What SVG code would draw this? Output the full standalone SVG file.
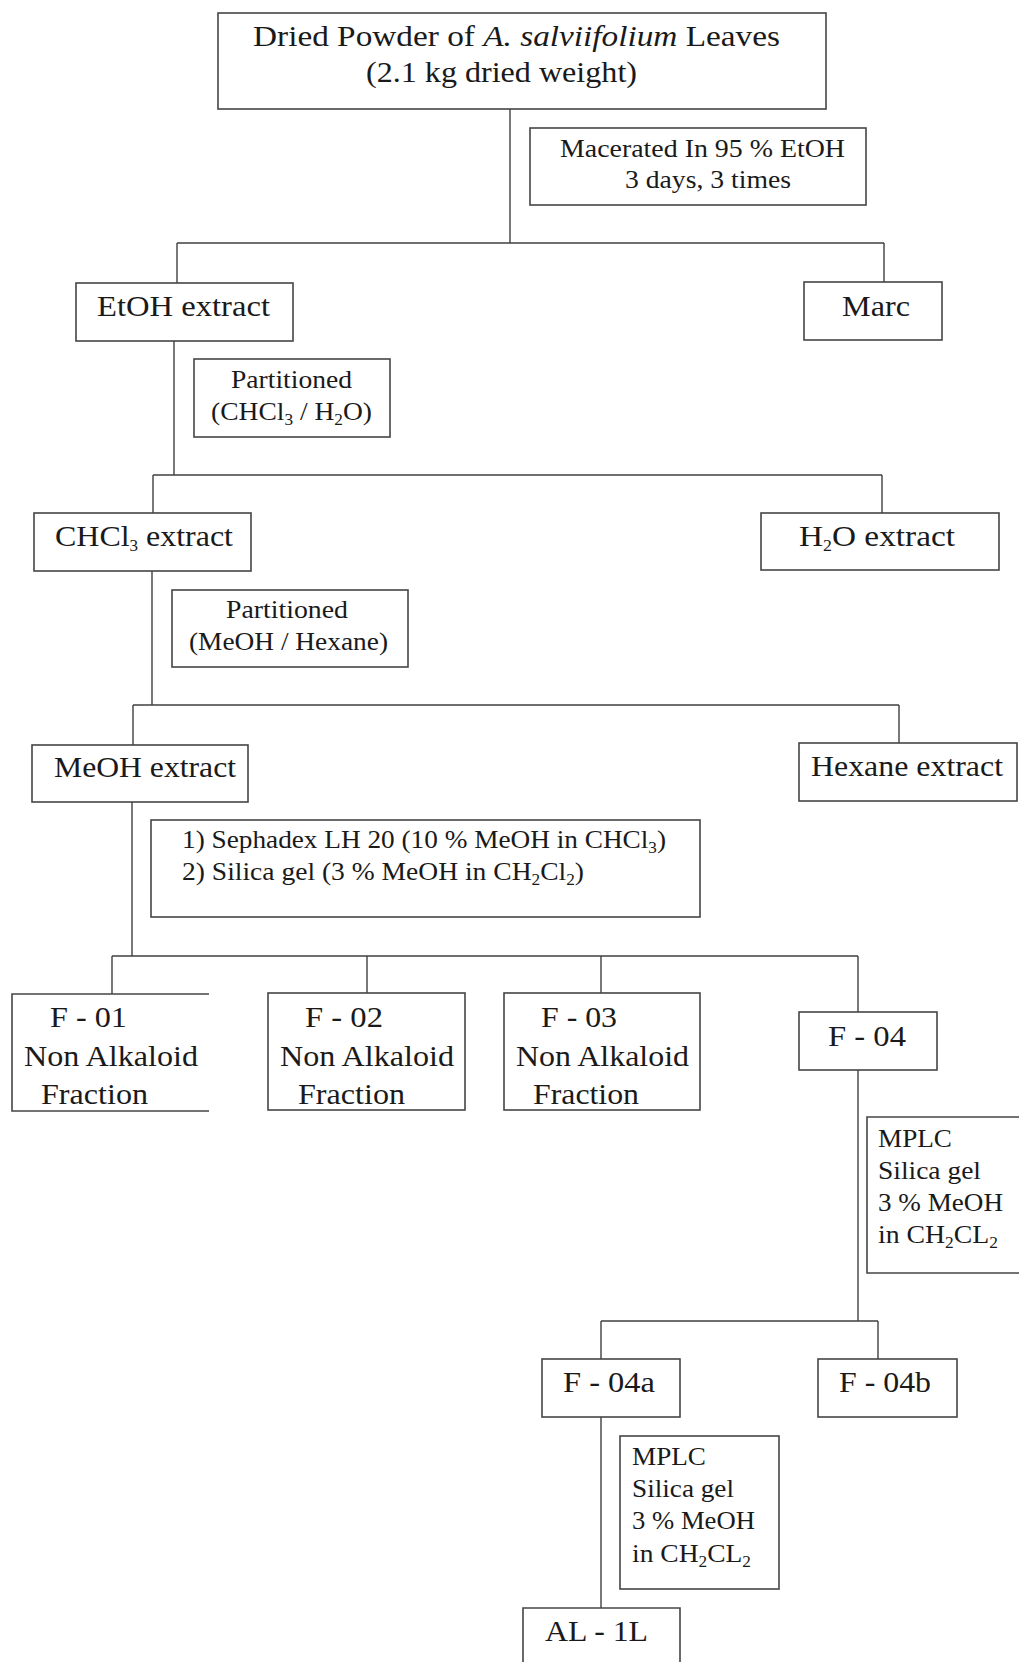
<svg xmlns="http://www.w3.org/2000/svg" width="1019" height="1662" viewBox="0 0 1019 1662" font-family="'Liberation Serif', 'Times New Roman', Times, serif">
<style>
.bx{fill:none;stroke:#454545;stroke-width:1.6}
.ln{fill:none;stroke:#404040;stroke-width:1.4}
text{font-family:'Liberation Serif','Times New Roman',Times,serif;fill:#1a1a1a}
.big{font-size:30px}
.sm{font-size:25.5px}
.sub{font-size:16px}
</style>
<rect width="1019" height="1662" fill="#ffffff"/>
<g id="connectors">
<path class="ln" d="M510,109 V243 M177,243 H884 M177,243 V283 M884,243 V282"/>
<path class="ln" d="M174,341 V475 M153,475 H882 M153,475 V513 M882,475 V513"/>
<path class="ln" d="M152,571 V705 M133,705 H899 M133,705 V745 M899,705 V743"/>
<path class="ln" d="M132,802 V956 M112,956 H858 M112,956 V994 M367,956 V993 M601,956 V993 M858,956 V1012"/>
<path class="ln" d="M858,1070 V1321 M601,1321 H878 M601,1321 V1359 M878,1321 V1359"/>
<path class="ln" d="M601,1417 V1608"/>
</g>
<g id="n-start">
<rect class="bx" x="218" y="13" width="608" height="96"/>
<text class="big" x="253" y="46" textLength="527" lengthAdjust="spacingAndGlyphs">Dried Powder of <tspan font-style="italic">A. salviifolium</tspan> Leaves</text>
<text class="big" x="366" y="82" textLength="271" lengthAdjust="spacingAndGlyphs">(2.1 kg dried weight)</text>
</g>
<g id="s-macerate">
<rect class="bx" x="530" y="128" width="336" height="77"/>
<text class="sm" x="560" y="157" textLength="285" lengthAdjust="spacingAndGlyphs">Macerated In 95 % EtOH</text>
<text class="sm" x="625" y="188" textLength="166" lengthAdjust="spacingAndGlyphs">3 days, 3 times</text>
</g>
<g id="n-etoh">
<rect class="bx" x="76" y="283" width="217" height="58"/>
<text class="big" x="97" y="316" textLength="173" lengthAdjust="spacingAndGlyphs">EtOH extract</text>
</g>
<g id="n-marc">
<rect class="bx" x="804" y="282" width="138" height="58"/>
<text class="big" x="842" y="316" textLength="68" lengthAdjust="spacingAndGlyphs">Marc</text>
</g>
<g id="s-part1">
<rect class="bx" x="194" y="359" width="196" height="78"/>
<text class="sm" x="231" y="388" textLength="121" lengthAdjust="spacingAndGlyphs">Partitioned</text>
<text class="sm" x="211" y="420" textLength="161" lengthAdjust="spacingAndGlyphs">(CHCl<tspan class="sub" dy="5">3</tspan><tspan dy="-5"> / H</tspan><tspan class="sub" dy="5">2</tspan><tspan dy="-5">O)</tspan></text>
</g>
<g id="n-chcl3">
<rect class="bx" x="34" y="513" width="217" height="58"/>
<text class="big" x="55" y="546" textLength="178" lengthAdjust="spacingAndGlyphs">CHCl<tspan class="sub" dy="5">3</tspan><tspan dy="-5"> extract</tspan></text>
</g>
<g id="n-h2o">
<rect class="bx" x="761" y="513" width="238" height="57"/>
<text class="big" x="799" y="546" textLength="156" lengthAdjust="spacingAndGlyphs">H<tspan class="sub" dy="5">2</tspan><tspan dy="-5">O extract</tspan></text>
</g>
<g id="s-part2">
<rect class="bx" x="172" y="590" width="236" height="77"/>
<text class="sm" x="226" y="618" textLength="122" lengthAdjust="spacingAndGlyphs">Partitioned</text>
<text class="sm" x="189" y="650" textLength="199" lengthAdjust="spacingAndGlyphs">(MeOH / Hexane)</text>
</g>
<g id="n-meoh">
<rect class="bx" x="32" y="745" width="216" height="57"/>
<text class="big" x="54" y="777" textLength="182" lengthAdjust="spacingAndGlyphs">MeOH extract</text>
</g>
<g id="n-hexane">
<rect class="bx" x="799" y="743" width="218" height="58"/>
<text class="big" x="811" y="776" textLength="192" lengthAdjust="spacingAndGlyphs">Hexane extract</text>
</g>
<g id="s-sephadex">
<rect class="bx" x="151" y="820" width="549" height="97"/>
<text class="sm" x="182" y="848" textLength="484" lengthAdjust="spacingAndGlyphs">1) Sephadex LH 20 (10 % MeOH in CHCl<tspan class="sub" dy="5">3</tspan><tspan dy="-5">)</tspan></text>
<text class="sm" x="182" y="880" textLength="402" lengthAdjust="spacingAndGlyphs">2) Silica gel (3 % MeOH in CH<tspan class="sub" dy="5">2</tspan><tspan dy="-5">Cl</tspan><tspan class="sub" dy="5">2</tspan><tspan dy="-5">)</tspan></text>
</g>
<g id="n-f01">
<path class="bx" d="M209,994 H12 V1111 H209"/>
<text class="big" x="50" y="1027" textLength="77" lengthAdjust="spacingAndGlyphs">F - 01</text>
<text class="big" x="24" y="1066" textLength="174" lengthAdjust="spacingAndGlyphs">Non Alkaloid</text>
<text class="big" x="41" y="1104" textLength="107" lengthAdjust="spacingAndGlyphs">Fraction</text>
</g>
<g id="n-f02">
<rect class="bx" x="268" y="993" width="197" height="117"/>
<text class="big" x="305" y="1027" textLength="78" lengthAdjust="spacingAndGlyphs">F - 02</text>
<text class="big" x="280" y="1066" textLength="174" lengthAdjust="spacingAndGlyphs">Non Alkaloid</text>
<text class="big" x="298" y="1104" textLength="107" lengthAdjust="spacingAndGlyphs">Fraction</text>
</g>
<g id="n-f03">
<rect class="bx" x="504" y="993" width="196" height="117"/>
<text class="big" x="541" y="1027" textLength="76" lengthAdjust="spacingAndGlyphs">F - 03</text>
<text class="big" x="516" y="1066" textLength="173" lengthAdjust="spacingAndGlyphs">Non Alkaloid</text>
<text class="big" x="533" y="1104" textLength="106" lengthAdjust="spacingAndGlyphs">Fraction</text>
</g>
<g id="n-f04">
<rect class="bx" x="799" y="1012" width="138" height="58"/>
<text class="big" x="828" y="1046" textLength="78" lengthAdjust="spacingAndGlyphs">F - 04</text>
</g>
<g id="s-mplc1">
<path class="bx" d="M1019,1117 H867 V1273 H1019"/>
<text class="sm" x="878" y="1147" textLength="74" lengthAdjust="spacingAndGlyphs">MPLC</text>
<text class="sm" x="878" y="1179" textLength="103" lengthAdjust="spacingAndGlyphs">Silica gel</text>
<text class="sm" x="878" y="1211" textLength="125" lengthAdjust="spacingAndGlyphs">3 % MeOH</text>
<text class="sm" x="878" y="1243" textLength="120" lengthAdjust="spacingAndGlyphs">in CH<tspan class="sub" dy="5">2</tspan><tspan dy="-5">CL</tspan><tspan class="sub" dy="5">2</tspan></text>
</g>
<g id="n-f04a">
<rect class="bx" x="542" y="1359" width="138" height="58"/>
<text class="big" x="563" y="1392" textLength="92" lengthAdjust="spacingAndGlyphs">F - 04a</text>
</g>
<g id="n-f04b">
<rect class="bx" x="818" y="1359" width="139" height="58"/>
<text class="big" x="839" y="1392" textLength="92" lengthAdjust="spacingAndGlyphs">F - 04b</text>
</g>
<g id="s-mplc2">
<rect class="bx" x="620" y="1436" width="159" height="153"/>
<text class="sm" x="632" y="1465" textLength="74" lengthAdjust="spacingAndGlyphs">MPLC</text>
<text class="sm" x="632" y="1497" textLength="102" lengthAdjust="spacingAndGlyphs">Silica gel</text>
<text class="sm" x="632" y="1529" textLength="123" lengthAdjust="spacingAndGlyphs">3 % MeOH</text>
<text class="sm" x="632" y="1562" textLength="119" lengthAdjust="spacingAndGlyphs">in CH<tspan class="sub" dy="5">2</tspan><tspan dy="-5">CL</tspan><tspan class="sub" dy="5">2</tspan></text>
</g>
<g id="n-al1l">
<path class="bx" d="M523,1662 V1608 H680 V1662"/>
<text class="big" x="545" y="1641" textLength="103" lengthAdjust="spacingAndGlyphs">AL - 1L</text>
</g>
</svg>
